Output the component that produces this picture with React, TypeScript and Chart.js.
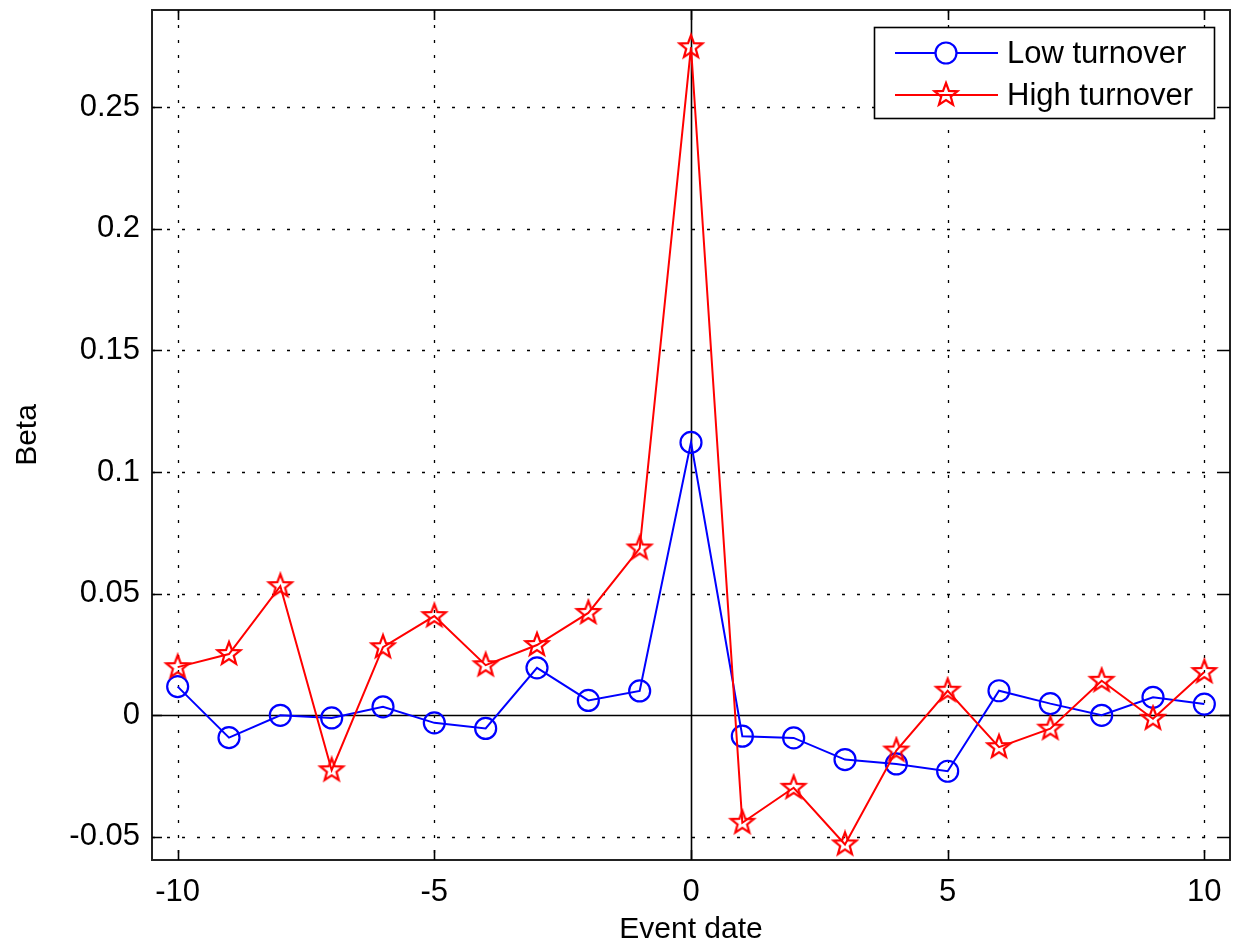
import React, { useEffect, useRef } from "react";
import { Chart, registerables } from "chart.js";

Chart.register(...registerables);

const EVENT_DATES = [-10, -9, -8, -7, -6, -5, -4, -3, -2, -1, 0, 1, 2, 3, 4, 5, 6, 7, 8, 9, 10];
const LOW_TURNOVER = [0.0118, -0.0092, 0.0, -0.0011, 0.0035, -0.0031, -0.0054, 0.0195, 0.0061, 0.0100, 0.1122, -0.0086, -0.0093, -0.0182, -0.0200, -0.0230, 0.0101, 0.0048, 0.0, 0.0074, 0.0046];
const HIGH_TURNOVER = [0.0198, 0.0252, 0.0531, -0.0226, 0.0280, 0.0408, 0.0206, 0.0289, 0.0421, 0.0686, 0.2747, -0.0442, -0.0298, -0.0531, -0.0145, 0.0101, -0.0131, -0.0055, 0.0142, -0.0014, 0.0178];
const X_TICKS = [-10, -5, 0, 5, 10];
const Y_TICKS = [-0.05, 0, 0.05, 0.1, 0.15, 0.2, 0.25];
const SERIES_NAMES = ["Low turnover", "High turnover"];
const X_LABEL = "Event date";
const Y_LABEL = "Beta";

const FONT_FAMILY = "'Liberation Sans', Arial, sans-serif";
const FONT_SIZE = 31;

function makeStar(color: string): HTMLCanvasElement {
  const c = document.createElement("canvas");
  c.width = 30;
  c.height = 30;
  const g = c.getContext("2d")!;
  const cx = 15, cy = 15, ro = 12, ri = 5;
  g.beginPath();
  for (let i = 0; i < 10; i++) {
    const r = i % 2 === 0 ? ro : ri;
    const a = -Math.PI / 2 + (i * Math.PI) / 5;
    const px = cx + r * Math.cos(a);
    const py = cy + r * Math.sin(a);
    if (i === 0) g.moveTo(px, py);
    else g.lineTo(px, py);
  }
  g.closePath();
  g.strokeStyle = color;
  g.lineWidth = 2.2;
  g.lineJoin = "miter";
  g.stroke();
  return c;
}

const matlabPlugin = {
  id: "matlabDecor",
  beforeDatasetsDraw(chart: any) {
    const { ctx, chartArea: a, scales } = chart;
    const x = scales.x, y = scales.y;
    ctx.save();
    ctx.strokeStyle = "#000";
    ctx.lineWidth = 1.3;
    ctx.setLineDash([3, 12]);
    for (const v of X_TICKS) {
      if (v === 0) continue;
      const px = Math.round(x.getPixelForValue(v)) + 0.5;
      ctx.beginPath();
      ctx.moveTo(px, a.top);
      ctx.lineTo(px, a.bottom);
      ctx.stroke();
    }
    for (const v of Y_TICKS) {
      if (v === 0) continue;
      const py = Math.round(y.getPixelForValue(v)) + 0.5;
      ctx.beginPath();
      ctx.moveTo(a.left, py);
      ctx.lineTo(a.right, py);
      ctx.stroke();
    }
    ctx.setLineDash([]);
    ctx.lineWidth = 1.6;
    const zx = Math.round(x.getPixelForValue(0)) + 0.5;
    const zy = Math.round(y.getPixelForValue(0)) + 0.5;
    ctx.beginPath();
    ctx.moveTo(zx, a.top);
    ctx.lineTo(zx, a.bottom);
    ctx.moveTo(a.left, zy);
    ctx.lineTo(a.right, zy);
    ctx.stroke();
    ctx.restore();
  },
  afterDatasetsDraw(chart: any) {
    const { ctx, chartArea: a, scales, data } = chart;
    const x = scales.x, y = scales.y;
    ctx.save();
    ctx.strokeStyle = "#222";
    ctx.lineWidth = 2;
    ctx.strokeRect(a.left, a.top, a.right - a.left, a.bottom - a.top);
    ctx.lineWidth = 1.6;
    ctx.strokeStyle = "#000";
    const tl = 10;
    ctx.beginPath();
    for (const v of X_TICKS) {
      const px = Math.round(x.getPixelForValue(v)) + 0.5;
      ctx.moveTo(px, a.bottom);
      ctx.lineTo(px, a.bottom - tl);
      ctx.moveTo(px, a.top);
      ctx.lineTo(px, a.top + tl);
    }
    for (const v of Y_TICKS) {
      const py = Math.round(y.getPixelForValue(v)) + 0.5;
      ctx.moveTo(a.left, py);
      ctx.lineTo(a.left + tl, py);
      ctx.moveTo(a.right, py);
      ctx.lineTo(a.right - tl, py);
    }
    ctx.stroke();

    const lx = a.right - 356, ly = a.top + 17, lw = 340, lh = 91;
    ctx.fillStyle = "#fff";
    ctx.fillRect(lx, ly, lw, lh);
    ctx.strokeStyle = "#000";
    ctx.lineWidth = 1.6;
    ctx.strokeRect(lx + 0.5, ly + 0.5, lw, lh);
    const rows = [ly + 26, ly + 68];
    data.datasets.forEach((ds: any, i: number) => {
      const ry = rows[i];
      ctx.strokeStyle = ds.borderColor;
      ctx.lineWidth = 2;
      ctx.beginPath();
      ctx.moveTo(lx + 21, ry);
      ctx.lineTo(lx + 124, ry);
      ctx.stroke();
      const mx = lx + 72;
      if (ds.pointStyle === "circle") {
        ctx.fillStyle = "#fff";
        ctx.beginPath();
        ctx.arc(mx, ry, 10.5, 0, Math.PI * 2);
        ctx.fill();
        ctx.lineWidth = 2.2;
        ctx.stroke();
      } else {
        const img = ds.pointStyle as HTMLCanvasElement;
        ctx.drawImage(img, mx - img.width / 2, ry - img.height / 2);
      }
      ctx.fillStyle = "#000";
      ctx.font = `${FONT_SIZE}px ${FONT_FAMILY}`;
      ctx.textBaseline = "middle";
      ctx.textAlign = "left";
      ctx.fillText(ds.label, lx + 133, ry + 1);
    });
    ctx.restore();
  },
};

export default function App() {
  const ref = useRef<HTMLCanvasElement | null>(null);
  useEffect(() => {
    if (!ref.current) return;
    const star = makeStar("#ff0000");
    const chart = new Chart(ref.current, {
      type: "scatter",
      data: {
        datasets: [
          {
            label: SERIES_NAMES[0],
            data: EVENT_DATES.map((d, i) => ({ x: d, y: LOW_TURNOVER[i] })),
            showLine: true,
            borderColor: "#0000ff",
            borderWidth: 2,
            pointStyle: "circle",
            pointRadius: 10.5,
            pointBorderWidth: 2.2,
            pointBorderColor: "#0000ff",
            pointBackgroundColor: "rgba(0,0,0,0)",
            order: 1,
          },
          {
            label: SERIES_NAMES[1],
            data: EVENT_DATES.map((d, i) => ({ x: d, y: HIGH_TURNOVER[i] })),
            showLine: true,
            borderColor: "#ff0000",
            borderWidth: 2,
            pointStyle: star as any,
            pointRadius: 12,
            pointBorderColor: "#ff0000",
            pointBackgroundColor: "rgba(0,0,0,0)",
            order: 0,
          },
        ],
      },
      options: {
        responsive: false,
        animation: false,
        layout: { padding: { top: 10, right: 4, left: 0, bottom: 0 } },
        plugins: { legend: { display: false }, tooltip: { enabled: false } },
        scales: {
          x: {
            type: "linear",
            min: -10.5,
            max: 10.5,
            grid: { display: false, drawTicks: false },
            border: { display: false },
            afterBuildTicks: (s: any) => {
              s.ticks = X_TICKS.map((v) => ({ value: v }));
            },
            afterFit: (s: any) => {
              s.height = 91;
              s.paddingLeft = 0;
              s.paddingRight = 0;
            },
            ticks: {
              padding: 14,
              color: "#000",
              maxRotation: 0,
              font: { family: FONT_FAMILY, size: FONT_SIZE },
              callback: (v: any) => String(v),
            },
            title: {
              display: true,
              text: X_LABEL,
              color: "#000",
              font: { family: FONT_FAMILY, size: 30 },
              padding: { top: 0, bottom: 3 },
            },
          },
          y: {
            type: "linear",
            min: -0.0595,
            max: 0.29,
            grid: { display: false, drawTicks: false },
            border: { display: false },
            afterBuildTicks: (s: any) => {
              s.ticks = Y_TICKS.map((v) => ({ value: v }));
            },
            afterFit: (s: any) => {
              s.width = 152;
              s.paddingTop = 0;
              s.paddingBottom = 0;
            },
            ticks: {
              padding: 12,
              color: "#000",
              font: { family: FONT_FAMILY, size: FONT_SIZE },
              callback: (v: any) => String(Number(Number(v).toFixed(4))),
            },
            title: {
              display: true,
              text: Y_LABEL,
              color: "#000",
              font: { family: FONT_FAMILY, size: 30 },
              padding: { top: 10, bottom: 0 },
            },
          },
        },
      },
      plugins: [matlabPlugin],
    });
    return () => chart.destroy();
  }, []);
  return (
    <div style={{ position: "absolute", left: 0, top: 0, width: 1234, height: 951, background: "#fff", overflow: "hidden" }}>
      <canvas ref={ref} width={1244} height={955} style={{ position: "absolute", left: 0, top: -4 }} />
    </div>
  );
}
